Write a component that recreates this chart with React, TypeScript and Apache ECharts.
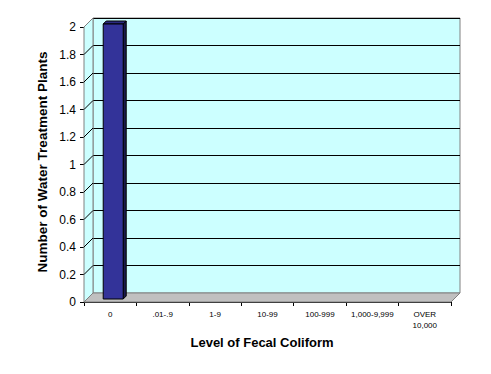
import React, { useEffect, useRef } from "react";
import * as echarts from "echarts";

const categories = ["0", ".01-.9", "1-9", "10-99", "100-999", "1,000-9,999", "OVER\n10,000"];
const plantCounts = [2, 0, 0, 0, 0, 0, 0];
const yTicks = [0, 0.2, 0.4, 0.6, 0.8, 1, 1.2, 1.4, 1.6, 1.8, 2];
const yTitle = "Number of Water Treatment Plants";
const xTitle = "Level of Fecal Coliform";

const DEPTH = 9; // wall depth in px (up-right)
const BAR_D0 = 3; // bar front face depth
const BAR_D1 = 6; // bar back depth
const BAR_W = 20;

export default function App() {
  const ref = useRef<HTMLDivElement>(null);
  useEffect(() => {
    if (!ref.current) return;
    const chart = echarts.init(ref.current, null, { renderer: "svg" });
    const font = "Arial, 'Liberation Sans', sans-serif";
    chart.setOption({
      animation: false,
      backgroundColor: "#ffffff",
      grid: [
        { left: 84 + DEPTH, top: 27 - DEPTH, width: 367, height: 275, show: true, backgroundColor: "#ccffff", borderColor: "#808080", borderWidth: 1 },
        { left: 84, top: 27, width: 367, height: 275, show: false },
      ],
      xAxis: [
        { gridIndex: 0, type: "category", data: categories, show: false },
        {
          gridIndex: 1,
          type: "category",
          data: categories,
          boundaryGap: true,
          axisLine: { show: true, lineStyle: { color: "#000", width: 1 } },
          axisTick: { show: true, length: 4, alignWithLabel: false, interval: 0, lineStyle: { color: "#000" } },
          axisLabel: { interval: 0, fontSize: 8, fontFamily: font, color: "#000", margin: 7, lineHeight: 11 },
          splitLine: { show: false },
        },
      ],
      yAxis: [
        {
          gridIndex: 0, type: "value", min: 0, max: 2, interval: 0.2,
          axisLine: { show: false }, axisTick: { show: false }, axisLabel: { show: false },
          splitLine: { show: true, lineStyle: { color: "#000", width: 1 } },
        },
        {
          gridIndex: 1, type: "value", min: 0, max: 2, interval: 0.2,
          axisLine: { show: true, lineStyle: { color: "#000", width: 1 } },
          axisTick: { show: true, length: 4, lineStyle: { color: "#000" } },
          axisLabel: { fontSize: 12, fontFamily: font, color: "#000", margin: 8 },
          splitLine: { show: false },
        },
      ],
      series: [
        {
          type: "custom",
          xAxisIndex: 1,
          yAxisIndex: 1,
          z: 1,
          silent: true,
          data: [[0, 0]],
          renderItem: (params: any, api: any) => {
            const n = categories.length;
            const fl = api.coord([0, 0]);
            const size = api.size([1, 0]);
            const x0 = fl[0] - size[0] / 2;
            const x1 = x0 + size[0] * n;
            const y0 = fl[1];
            const y2 = api.coord([0, 2])[1];
            const children: any[] = [];
            // side wall
            children.push({
              type: "polygon",
              shape: { points: [[x0, y0], [x0, y2], [x0 + DEPTH, y2 - DEPTH], [x0 + DEPTH, y0 - DEPTH]] },
              style: { fill: "#ccffff", stroke: "#808080", lineWidth: 1 },
            });
            yTicks.forEach((t) => {
              if (t === 0 || t === 2) return;
              const y = api.coord([0, t])[1];
              children.push({
                type: "line",
                shape: { x1: x0, y1: y, x2: x0 + DEPTH, y2: y - DEPTH },
                style: { stroke: "#000", lineWidth: 1 },
              });
            });
            // floor
            children.push({
              type: "polygon",
              shape: { points: [[x0, y0], [x1, y0], [x1 + DEPTH, y0 - DEPTH], [x0 + DEPTH, y0 - DEPTH]] },
              style: { fill: "#c0c0c0", stroke: "#808080", lineWidth: 1 },
            });
            return { type: "group", children };
          },
        },
        {
          type: "custom",
          xAxisIndex: 1,
          yAxisIndex: 1,
          z: 3,
          data: plantCounts.map((v, i) => [i, v]),
          renderItem: (params: any, api: any) => {
            const v = api.value(1);
            if (!v) return { type: "group", children: [] };
            const top = api.coord([api.value(0), v]);
            const bot = api.coord([api.value(0), 0]);
            const fx = top[0] - BAR_W / 2 + BAR_D0;
            const fyTop = top[1] - BAR_D0;
            const fyBot = bot[1] - BAR_D0;
            const d = BAR_D1 - BAR_D0;
            return {
              type: "group",
              children: [
                {
                  type: "polygon",
                  shape: { points: [[fx + BAR_W, fyTop], [fx + BAR_W + d, fyTop - d], [fx + BAR_W + d, fyBot - d], [fx + BAR_W, fyBot]] },
                  style: { fill: "#1a1a4d", stroke: "#000", lineWidth: 1 },
                },
                {
                  type: "polygon",
                  shape: { points: [[fx, fyTop], [fx + d, fyTop - d], [fx + BAR_W + d, fyTop - d], [fx + BAR_W, fyTop]] },
                  style: { fill: "#2a2a80", stroke: "#000", lineWidth: 1 },
                },
                {
                  type: "rect",
                  shape: { x: fx, y: fyTop, width: BAR_W, height: fyBot - fyTop },
                  style: { fill: "#333399", stroke: "#000", lineWidth: 1 },
                },
              ],
            };
          },
        },
      ],
      graphic: [
        {
          type: "text",
          x: 42,
          y: 162,
          rotation: Math.PI / 2,
          style: { text: yTitle, font: `bold 13.5px ${font}`, fill: "#000", align: "center", verticalAlign: "middle" },
        },
        {
          type: "text",
          x: 262,
          y: 342,
          style: { text: xTitle, font: `bold 13px ${font}`, fill: "#000", align: "center", verticalAlign: "middle" },
        },
      ],
    });
    return () => chart.dispose();
  }, []);
  return <div ref={ref} style={{ position: "fixed", left: 0, top: 0, width: 491, height: 374 }} />;
}
